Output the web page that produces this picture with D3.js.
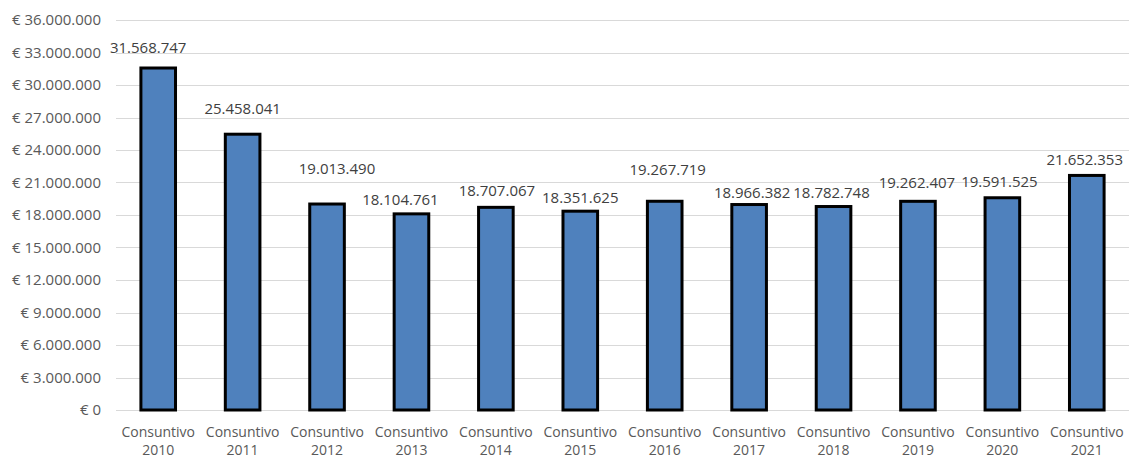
<!DOCTYPE html>
<html>
<head>
<meta charset="utf-8">
<script src="https://cdn.jsdelivr.net/npm/d3@7"></script>
<style>
  body { margin: 0; background: #fff; overflow: hidden; }
  text { font-family: "Open Sans", "Noto Sans", sans-serif; fill: #595959; }
</style>
</head>
<body>
<svg id="chart"></svg>
<script>
// categories and values
var years = ["2010", "2011", "2012", "2013", "2014", "2015", "2016", "2017", "2018", "2019", "2020", "2021"];
var values = [31568747, 25458041, 19013490, 18104761, 18707067, 18351625, 19267719, 18966382, 18782748, 19262407, 19591525, 21652353];
var yTicks = [0, 3000000, 6000000, 9000000, 12000000, 15000000, 18000000, 21000000, 24000000, 27000000, 30000000, 33000000, 36000000];

// manual label nudges (as in the original chart)
var labelDx = [-10, 0, 10, -11, 1, 0, 3, 3, -2, -1, -3, -2];
var labelDy = [-20, -25, -35, -14, -17, -13, -32, -12, -14, -19, -16, -16];

var width = 1130, height = 458;
var margin = {top: 20, right: 1, bottom: 48, left: 116};

var svg = d3.select("#chart")
    .attr("width", width)
    .attr("height", height);

var x = d3.scaleBand()
    .domain(years)
    .range([margin.left, width - margin.right])
    .paddingInner(0.59)
    .paddingOuter(0.295);

var y = d3.scaleLinear()
    .domain([0, 36000000])
    .range([height - margin.bottom, margin.top]);

var fmt = d3.formatLocale({decimal: ",", thousands: ".", grouping: [3], currency: ["€ ", ""]});
var num = fmt.format(",.0f");

// gridlines
svg.selectAll()
    .data(yTicks)
    .enter()
    .append("line")
    .attr("x1", margin.left)
    .attr("x2", width - margin.right)
    .attr("y1", function(d) { return Math.round(y(d)) + 0.5; })
    .attr("y2", function(d) { return Math.round(y(d)) + 0.5; })
    .attr("stroke", "#d9d9d9")
    .attr("stroke-width", 1);

// y axis labels
svg.selectAll()
    .data(yTicks)
    .enter()
    .append("text")
    .attr("x", 101)
    .attr("y", function(d) { return y(d); })
    .attr("dy", "0.35em")
    .attr("text-anchor", "end")
    .attr("font-size", "15px")
    .text(function(d) { return d === 0 ? "€ 0" : "€ " + num(d); });

// bars
svg.selectAll()
    .data(values)
    .enter()
    .append("rect")
    .attr("x", function(d, i) { return x(years[i]); })
    .attr("y", function(d) { return y(d); })
    .attr("width", x.bandwidth())
    .attr("height", function(d) { return y(0) - y(d); })
    .attr("fill", "#4f81bd")
    .attr("stroke", "#000")
    .attr("stroke-width", 3);

// value labels
svg.selectAll()
    .data(values)
    .enter()
    .append("text")
    .attr("x", function(d, i) { return x(years[i]) + x.bandwidth() / 2 + labelDx[i]; })
    .attr("y", function(d, i) { return y(d) + labelDy[i]; })
    .attr("dy", "0.35em")
    .attr("text-anchor", "middle")
    .attr("font-size", "15px")
    .style("fill", "#404040")
    .text(function(d) { return num(d); });

// x axis labels, two lines each
var cx = function(d) { return x(d) + x.bandwidth() / 2; };
svg.selectAll()
    .data(years)
    .enter()
    .append("text")
    .attr("x", cx)
    .attr("y", 432)
    .attr("dy", "0.35em")
    .attr("text-anchor", "middle")
    .attr("font-size", "14px")
    .text("Consuntivo");
svg.selectAll()
    .data(years)
    .enter()
    .append("text")
    .attr("x", cx)
    .attr("y", 450)
    .attr("dy", "0.35em")
    .attr("text-anchor", "middle")
    .attr("font-size", "14px")
    .text(function(d) { return d; });
</script>
</body>
</html>
